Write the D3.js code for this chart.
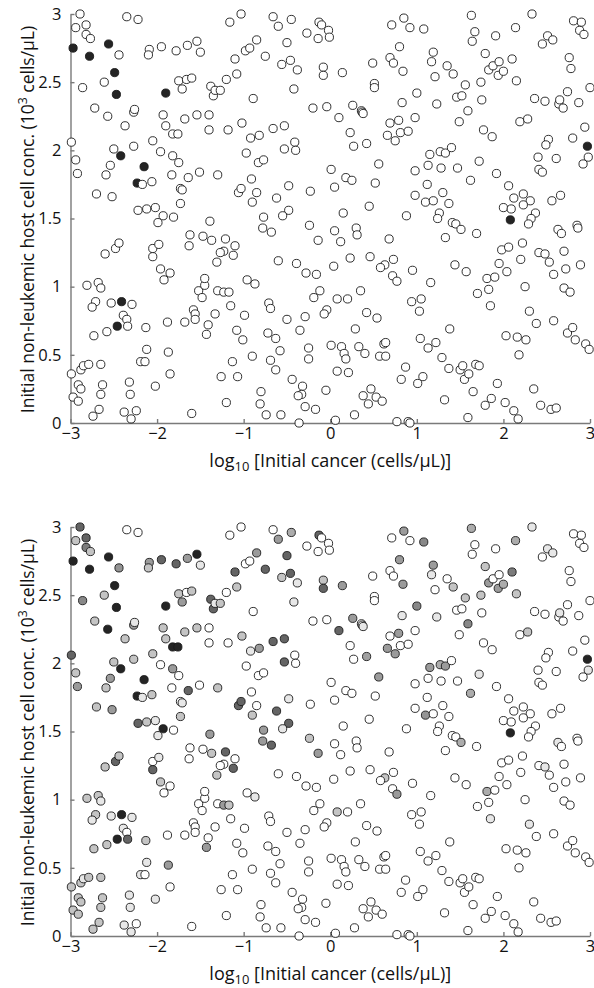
<!DOCTYPE html>
<html lang="en">
<head>
<meta charset="UTF-8">
<title>Initial cancer vs host cell concentration</title>
<script src="https://d3js.org/d3.v7.min.js"></script>
<style>
    html, body { margin: 0; padding: 0; background: #fff; overflow: hidden; }
    text { font-family: "Open Sans", "Noto Sans", sans-serif; fill: #111; }
    .axis path, .axis line { stroke: #7a7a7a; stroke-width: 1.4; }
    .axis text { font-size: 16.5px; fill: #111; }
</style>
</head>
<body>
<svg id="chart" width="594" height="988"></svg>
<script>
// log10 of initial cancer concentration (cells/uL), one entry per simulated case
const logCancer = [
    // upper-left block
    -2.89,-2.94,-2.82,-2.82,-2.77,-2.97,-2.78,-2.86,-2.56,-2.44,
    -2.35,-2.22,-2.49,-2.61,-2.47,-2.72,-2.57,-2.37,-2.27,-2.26,
    -2.99,-2.94,-2.92,-2.50,-2.42,-2.54,-2.59,-2.70,-2.52,-2.27,
    -2.15,-2.23,-2.17,-2.06,-2.05,-1.96,-2.09,-2.10,-1.95,-1.78,
    -1.65,-1.54,-1.50,-1.90,-1.75,-1.66,-1.60,-1.71,-1.93,-1.90,
    -1.82,-1.76,-1.68,-1.54,-1.40,-1.40,-1.18,-1.38,-1.35,-1.33,
    -1.27,-1.20,-1.08,-1.10,-1.16,-1.82,-1.75,-1.83,-1.64,-1.51,
    -1.30,-1.73,-1.71,-1.73,
    // upper-middle block
    -1.03,-0.66,-0.60,-0.45,-0.13,-0.10,-0.02,-0.27,-0.14,-0.01,
    -0.85,-0.98,-0.93,-0.50,-0.75,-0.46,-0.56,-0.38,-0.08,-0.08,
    0.14,-0.42,-0.89,-0.20,-0.04,0.26,0.36,0.37,0.38,0.10,
    0.23,0.27,0.42,0.49,0.51,0.51,0.71,0.85,0.92,0.69,
    0.73,0.80,0.84,0.83,0.69,0.79,0.66,0.75,0.81,0.90,
    -1.02,-0.92,-0.82,-0.66,-0.53,-0.41,-0.40,-0.53,-0.97,-0.83,
    -0.77,-0.91,-1.06,-1.03,-0.85,-0.90,-0.62,-0.48,-0.23,0.01,
    0.05,0.18,0.25,0.52,0.56,0.45,
    // upper-right block
    1.08,1.63,1.67,1.64,1.91,2.14,2.33,2.81,2.90,2.88,
    2.93,2.51,2.57,2.45,1.19,1.17,1.35,1.42,1.21,1.79,
    1.83,1.88,1.95,1.94,2.00,2.10,2.15,1.74,1.56,1.46,
    1.52,1.75,1.00,1.23,1.59,1.49,0.98,2.76,2.78,3.00,
    2.36,2.48,2.64,2.65,2.69,2.74,2.87,2.19,2.28,1.77,
    1.87,2.52,2.49,2.80,2.94,2.97,2.98,2.92,2.40,2.61,
    2.41,2.45,1.15,1.27,1.33,1.40,1.13,1.28,1.47,0.98,
    1.72,1.92,1.62,1.12,0.98,1.10,1.19,1.30,1.37,2.06,
    2.12,2.23,2.31,2.23,2.56,2.66,
    // lower-left block
    -2.22,-2.12,-2.02,-1.93,-1.99,-1.81,-1.39,-1.62,-1.63,-1.47,
    -1.37,-1.21,-1.10,-1.12,-1.23,-1.27,-1.31,-2.05,-1.98,-2.05,
    -2.48,-2.44,-2.60,-1.96,-1.85,-1.92,-2.81,-2.68,-2.65,-2.71,
    -2.75,-2.53,-2.41,-2.29,-2.39,-2.35,-2.46,-2.34,-2.58,-2.73,
    -2.13,-1.88,-1.68,-1.58,-1.56,-1.56,-1.52,-1.45,-1.45,-1.48,
    -1.30,-1.23,-1.17,-1.15,-1.33,-1.41,-1.43,-1.08,-1.87,-2.12,
    -2.19,-2.14,-1.85,-2.02,-2.32,-2.31,-2.38,-2.30,-2.24,-1.60,
    -2.99,-2.88,-2.85,-2.79,-2.65,-2.91,-2.88,-2.97,-2.91,-2.63,
    -2.65,-2.67,-2.74,-1.26,-1.20,-1.13,-1.07,
    // lower-middle block
    -0.48,-0.55,-0.77,-0.78,-0.68,-0.24,-0.14,0.15,0.88,0.05,
    0.12,0.30,0.31,0.68,-0.60,-0.39,-0.28,-0.16,0.04,0.23,
    0.46,0.63,0.58,0.73,0.72,0.77,0.95,-0.96,-0.87,-0.12,
    -0.19,0.08,0.20,0.35,0.94,-0.71,-0.69,-0.99,-0.50,-0.29,
    -0.35,-0.04,-0.07,0.42,0.54,0.29,-1.01,-0.72,-0.63,-0.58,
    -0.90,-0.25,-0.25,0.01,0.13,0.16,0.18,0.33,0.40,0.62,
    0.64,0.57,0.64,-0.69,-0.63,-0.44,-0.32,-0.33,-0.37,-0.05,
    0.08,0.21,-0.80,-0.81,-0.74,-0.57,-0.29,-0.17,-0.36,0.06,
    0.28,0.38,0.47,0.53,0.44,0.60,0.87,0.82,0.77,0.90,
    0.92,
    // lower-right block
    1.26,1.24,1.41,1.45,1.51,1.33,1.69,2.00,2.09,2.08,
    2.37,2.32,2.29,2.63,2.67,2.85,2.86,1.98,2.06,2.22,
    2.20,2.41,2.48,2.53,2.70,2.72,2.89,2.58,2.70,2.77,
    1.95,2.04,2.25,1.81,1.90,1.83,1.70,1.85,2.30,2.38,
    2.58,1.44,1.57,1.16,1.05,1.03,1.38,1.04,1.13,1.22,
    1.29,1.37,1.50,1.53,1.55,1.60,1.68,1.72,1.07,1.01,
    1.65,1.32,1.59,1.79,1.86,1.93,2.02,2.12,2.17,2.03,
    2.16,2.26,2.18,2.35,2.43,2.55,2.61,2.74,2.80,2.83,
    2.95,2.99
];

// initial non-leukemic host cell concentration (10^3 cells/uL)
const hostConc = [
    3.00,2.90,2.92,2.85,2.82,2.75,2.69,2.46,2.78,2.70,
    2.98,2.96,2.57,2.50,2.41,2.31,2.25,2.18,2.28,2.30,
    2.06,1.93,1.83,2.01,1.96,1.89,1.82,1.68,1.66,2.03,
    1.88,1.76,1.75,1.77,2.07,1.99,2.74,2.70,2.76,2.73,
    2.77,2.80,2.72,2.42,2.51,2.52,2.53,2.45,2.26,2.18,
    2.12,2.12,2.23,2.26,2.26,2.15,2.15,2.47,2.40,2.44,
    2.44,2.52,2.56,2.67,2.94,1.96,1.91,1.82,1.80,1.84,
    1.82,1.72,1.71,1.61,

    3.00,2.98,2.91,2.96,2.94,2.92,2.88,2.86,2.82,2.83,
    2.81,2.73,2.75,2.79,2.69,2.66,2.63,2.59,2.61,2.55,
    2.57,2.45,2.38,2.31,2.32,2.33,2.29,2.28,2.27,2.24,
    2.13,2.03,2.05,2.64,2.49,2.46,2.92,2.97,2.90,2.68,
    2.64,2.76,2.58,2.35,2.20,2.22,2.11,2.07,2.13,2.14,
    2.20,2.09,2.11,2.16,2.18,2.06,2.00,2.01,1.98,1.91,
    1.93,1.79,1.69,1.72,1.69,1.62,1.65,1.74,1.70,1.86,
    1.73,1.80,1.78,1.76,1.90,1.59,

    2.89,2.99,2.87,2.80,2.84,2.90,3.00,2.95,2.94,2.88,
    2.85,2.84,2.81,2.78,2.72,2.65,2.62,2.56,2.54,2.71,
    2.59,2.62,2.65,2.55,2.58,2.67,2.51,2.50,2.48,2.39,
    2.40,2.37,2.42,2.34,2.29,2.21,2.24,2.68,2.60,2.46,
    2.38,2.36,2.34,2.37,2.31,2.43,2.35,2.21,2.23,2.15,
    2.10,2.08,2.04,2.09,2.17,2.03,1.95,1.90,1.95,1.94,
    1.86,1.84,1.97,1.99,1.98,2.02,1.89,1.87,1.87,1.85,
    1.92,1.83,1.78,1.75,1.67,1.62,1.63,1.69,1.61,1.74,
    1.65,1.68,1.63,1.60,1.63,1.67,

    1.56,1.57,1.58,1.52,1.47,1.51,1.48,1.38,1.30,1.37,
    1.34,1.35,1.30,1.23,1.26,1.25,1.18,1.28,1.31,1.22,
    1.28,1.32,1.24,1.13,1.10,1.05,1.01,1.03,0.99,0.89,
    0.85,0.88,0.89,0.87,0.79,0.76,0.71,0.71,0.67,0.64,
    0.70,0.74,0.74,0.83,0.80,0.76,0.97,1.01,1.06,0.92,
    0.97,0.96,0.96,0.86,0.80,0.72,0.65,0.68,0.52,0.54,
    0.45,0.45,0.36,0.27,0.30,0.21,0.08,0.03,0.09,0.07,
    0.36,0.39,0.42,0.43,0.43,0.28,0.25,0.19,0.16,0.28,
    0.21,0.10,0.05,0.34,0.15,0.45,0.34,

    1.56,1.52,1.51,1.43,1.40,1.45,1.34,1.54,1.52,1.41,
    1.33,1.43,1.38,1.35,1.19,1.17,1.10,1.09,1.15,1.21,
    1.22,1.16,1.14,1.20,1.08,1.04,1.12,1.05,1.02,0.97,
    0.92,0.91,0.91,0.97,0.89,0.88,0.84,0.79,0.76,0.78,
    0.68,0.83,0.80,0.81,0.77,0.69,0.61,0.66,0.62,0.53,
    0.49,0.55,0.47,0.57,0.56,0.51,0.47,0.56,0.51,0.58,
    0.59,0.49,0.49,0.46,0.39,0.32,0.27,0.21,0.20,0.24,
    0.38,0.37,0.23,0.14,0.06,0.06,0.12,0.10,0.00,0.02,
    0.06,0.20,0.25,0.19,0.14,0.16,0.41,0.32,0.01,0.01,
    0.00,

    1.54,1.50,1.47,1.46,1.42,1.36,1.39,1.58,1.57,1.49,
    1.54,1.50,1.46,1.42,1.39,1.45,1.43,1.27,1.29,1.32,
    1.20,1.25,1.24,1.18,1.26,1.13,1.16,1.09,0.99,0.96,
    1.17,1.11,1.00,1.06,1.07,0.98,0.95,0.86,0.82,0.73,
    0.75,1.16,1.11,1.03,0.91,0.82,0.69,0.62,0.55,0.59,
    0.48,0.40,0.39,0.42,0.32,0.36,0.43,0.42,0.34,0.29,
    0.23,0.17,0.04,0.13,0.18,0.29,0.15,0.09,0.03,0.64,
    0.63,0.61,0.50,0.25,0.13,0.10,0.11,0.66,0.70,0.61,
    0.58,0.54
];

// upper panel: 1 = filled black, 0 = open circle
const upperOutcome = [
    0,0,0,0,0,1,1,0,1,0, 0,0,1,0,1,0,0,0,0,0, 0,0,0,0,1,0,0,0,0,0,
    1,1,0,0,0,0,0,0,0,0, 0,0,0,1,0,0,0,0,0,0, 0,0,0,0,0,0,0,0,0,0,
    0,0,0,0,0,0,0,0,0,0, 0,0,0,0,

    0,0,0,0,0,0,0,0,0,0, 0,0,0,0,0,0,0,0,0,0, 0,0,0,0,0,0,0,0,0,0,
    0,0,0,0,0,0,0,0,0,0, 0,0,0,0,0,0,0,0,0,0, 0,0,0,0,0,0,0,0,0,0,
    0,0,0,0,0,0,0,0,0,0, 0,0,0,0,0,0,

    0,0,0,0,0,0,0,0,0,0, 0,0,0,0,0,0,0,0,0,0, 0,0,0,0,0,0,0,0,0,0,
    0,0,0,0,0,0,0,0,0,0, 0,0,0,0,0,0,0,0,0,0, 0,0,0,0,0,1,0,0,0,0,
    0,0,0,0,0,0,0,0,0,0, 0,0,0,0,0,0,0,0,0,0, 0,0,0,0,0,0,

    0,0,0,0,0,0,0,0,0,0, 0,0,0,0,0,0,0,0,0,0, 0,0,0,0,0,0,0,0,0,0,
    0,0,1,0,0,0,1,0,0,0, 0,0,0,0,0,0,0,0,0,0, 0,0,0,0,0,0,0,0,0,0,
    0,0,0,0,0,0,0,0,0,0, 0,0,0,0,0,0,0,0,0,0, 0,0,0,0,0,0,0,

    0,0,0,0,0,0,0,0,0,0, 0,0,0,0,0,0,0,0,0,0, 0,0,0,0,0,0,0,0,0,0,
    0,0,0,0,0,0,0,0,0,0, 0,0,0,0,0,0,0,0,0,0, 0,0,0,0,0,0,0,0,0,0,
    0,0,0,0,0,0,0,0,0,0, 0,0,0,0,0,0,0,0,0,0, 0,0,0,0,0,0,0,0,0,0,
    0,

    0,0,0,0,0,0,0,0,0,1, 0,0,0,0,0,0,0,0,0,0, 0,0,0,0,0,0,0,0,0,0,
    0,0,0,0,0,0,0,0,0,0, 0,0,0,0,0,0,0,0,0,0, 0,0,0,0,0,0,0,0,0,0,
    0,0,0,0,0,0,0,0,0,0, 0,0,0,0,0,0,0,0,0,0, 0,0
];

// lower panel: grey level of each marker (0 = white, 1 = black)
const lowerOutcome = [
    .65,.25,.65,.55,.25,.92,.92,.5,.92,.45,
    0,0,.92,.25,.92,.25,.92,.25,.42,.1,
    .65,.25,.42,.25,.92,.42,.25,.25,.42,.25,
    .92,.92,.1,.25,.25,0,.42,.25,.65,.65,
    .42,.92,.1,.92,.25,0,.25,.42,.25,.25,
    .92,.92,.25,.25,0,0,0,.65,.65,.1,
    .25,0,.25,.65,0,.42,0,0,.65,0,
    .25,0,.1,.25,

    0,0,.42,.35,.65,0,0,0,0,0,
    .42,0,0,.65,.65,.65,.25,.1,.25,.65,
    .42,.1,0,0,0,.42,0,0,.1,.65,
    0,0,.4,0,0,0,0,.42,0,0,
    0,.42,.42,.1,0,.42,.42,.42,0,0,
    .25,.1,.42,.65,.65,0,0,.65,0,0,
    0,0,.65,.65,0,.25,.65,.1,0,0,
    0,0,0,0,.42,0,

    .5,.35,0,0,0,.35,.1,0,0,0,
    0,.1,.1,0,.42,.1,0,.25,0,.25,
    .42,0,0,.42,.35,.55,.25,.25,.25,0,
    0,0,.5,.1,.5,0,0,0,0,0,
    0,0,0,.1,0,0,0,0,.25,0,
    0,0,0,0,0,.92,.1,0,0,0,
    0,0,.42,.35,.42,0,0,0,0,0,
    .1,0,.35,0,0,.45,0,0,0,0,
    0,0,0,0,0,0,

    .65,.25,.1,.92,.1,0,.42,0,0,0,
    .25,.65,0,.65,0,0,.25,0,.1,.65,
    .65,.25,.25,.25,0,0,.25,.25,.1,.25,
    .1,.1,.92,.1,.1,0,.92,.65,.25,.25,
    .25,0,0,0,0,0,0,0,0,0,
    0,.42,.25,0,0,0,.42,0,.42,.1,
    .1,0,0,.1,.1,.1,.1,.1,0,0,
    .25,.25,.1,.25,.25,.25,.25,.25,.25,.25,
    .25,.25,.25,0,0,0,0,

    .65,.1,.42,.42,.65,.25,.42,0,0,0,
    0,0,0,0,0,0,0,0,0,0,
    0,.25,0,0,0,.42,0,0,.1,0,
    0,.25,0,0,0,0,0,0,0,0,
    0,0,0,0,0,0,0,0,0,0,
    0,0,0,0,0,0,0,0,0,0,
    0,0,0,0,0,0,0,0,0,0,
    0,0,0,0,0,0,0,0,0,0,
    0,0,0,0,0,0,0,0,0,0,
    0,

    0,0,0,0,.35,0,0,0,0,.92,
    0,0,0,.1,0,0,0,0,0,0,
    0,0,.1,0,0,0,0,0,0,0,
    0,0,0,.35,0,0,0,.1,.1,0,
    0,0,0,0,0,0,0,0,0,0,
    0,0,0,0,0,0,0,0,0,0,
    0,0,0,0,0,0,0,0,0,0,
    0,0,0,0,0,0,0,0,0,0,
    0,0
];

const xTicks = [-3, -2, -1, 0, 1, 2, 3];
const yTicks = [0, 0.5, 1, 1.5, 2, 2.5, 3];

const svg = d3.select("#chart");
const plotLeft = 70.5, plotRight = 590, plotH = 409;
const x = d3.scaleLinear().domain([-3, 3]).range([plotLeft, plotRight]);
const y = d3.scaleLinear().domain([0, 3]).range([plotH, 0]);
const grey = d3.scaleLinear().domain([0, 1]).range(["#ffffff", "#111111"]);
const fmt = v => (v < 0 ? "\u2212" : "") + Math.abs(v);

const panels = [
    { top: 14,  level: upperOutcome.map(v => v ? 0.92 : 0) },
    { top: 527, level: lowerOutcome }
];

// shrink a label until it spans the wanted length
function fitText(sel, target, size) {
    sel.style("font-size", size + "px");
    const w = sel.node().getComputedTextLength();
    if (w > target) sel.style("font-size", (size * target / w).toFixed(2) + "px");
}

panels.forEach(p => {
    const g = svg.append("g").attr("transform", `translate(0,${p.top})`);

    g.append("g").attr("class", "axis")
        .attr("transform", `translate(0,${plotH})`)
        .call(d3.axisBottom(x).tickValues(xTicks).tickFormat(fmt)
            .tickSizeInner(-4).tickSizeOuter(0).tickPadding(4));

    g.append("g").attr("class", "axis")
        .attr("transform", `translate(${plotLeft},0)`)
        .call(d3.axisLeft(y).tickValues(yTicks).tickFormat(d => String(d))
            .tickSizeInner(-4).tickSizeOuter(0).tickPadding(9));

    const pts = logCancer.map((v, i) => ({ x: v, y: hostConc[i], s: p.level[i] }));
    g.append("g").selectAll("circle")
        .data(pts)
        .enter().append("circle")
        .attr("cx", d => x(d.x))
        .attr("cy", d => y(d.y))
        .attr("r", 4.1)
        .attr("fill", d => grey(d.s))
        .attr("stroke", "#1a1a1a")
        .attr("stroke-width", 0.9);

    // x axis title
    const xt = g.append("text")
        .attr("x", (plotLeft + plotRight) / 2)
        .attr("y", plotH + 44)
        .attr("text-anchor", "middle");
    xt.append("tspan").text("log");
    xt.append("tspan").attr("dy", 4).style("font-size", "0.72em").text("10");
    xt.append("tspan").attr("dy", -4).text(" [Initial cancer (cells/\u03bcL)]");
    fitText(xt, 342, 18);

    // y axis title
    const yt = g.append("text")
        .attr("transform", `translate(34,${plotH / 2 + 1}) rotate(-90)`)
        .attr("text-anchor", "middle");
    yt.append("tspan").text("Initial non-leukemic host cell conc. (10");
    yt.append("tspan").attr("dy", -7).style("font-size", "0.7em").text("3");
    yt.append("tspan").attr("dy", 7).text(" cells/\u03bcL)");
    fitText(yt, 415, 17.5);
});
</script>
</body>
</html>
